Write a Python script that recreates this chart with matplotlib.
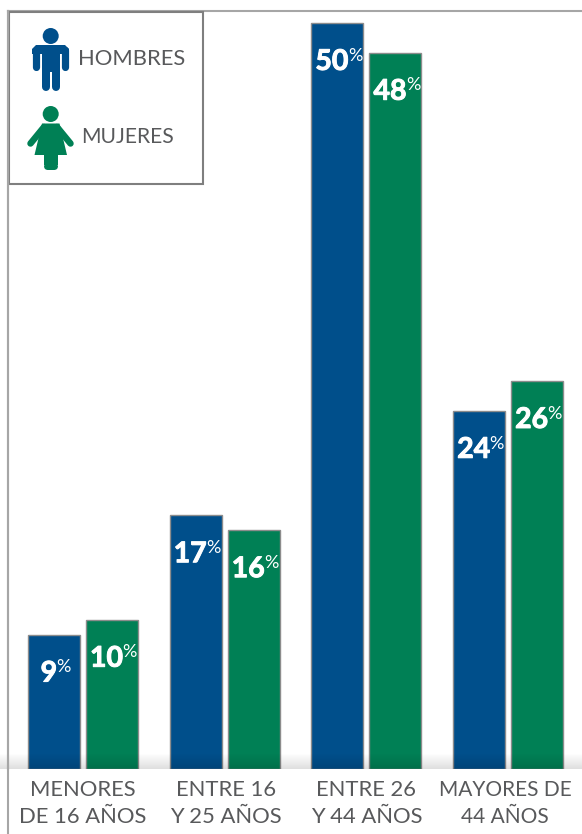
import numpy as np
import matplotlib
matplotlib.use('Agg')
import matplotlib.pyplot as plt
import matplotlib.patheffects as pe
from matplotlib.patches import Circle, Polygon, Rectangle

# values (%)
categories = ['MENORES\nDE 16 AÑOS', 'ENTRE 16\nY 25 AÑOS', 'ENTRE 26\nY 44 AÑOS', 'MAYORES DE\n44 AÑOS']
hombres = [9, 17, 50, 24]
mujeres = [10, 16, 48, 26]

BLUE = '#004f8b'
GREEN = '#008055'
GREY = '#58595b'
FRAME = '#7f7f7f'

W, H = 582, 834
plt.rcParams['font.family'] = ['Lato', 'DejaVu Sans']

fig = plt.figure(figsize=(W / 100, H / 100), dpi=100)

# plot area: left frame at x=8, top at y=11, baseline at y=769
ax = fig.add_axes([8 / W, 1 - 769 / H, (W - 8) / W, (769 - 11) / H])
pitch = 141.7
x0 = (83 - 8) / pitch
ax.set_xlim(-x0, (W - 8) / pitch - x0)
ax.set_ylim(0, 758 / 14.92)

x = np.arange(len(categories))
bw = 52 / pitch
off = 29 / pitch
bars_h = ax.bar(x - off, hombres, bw, color=BLUE, edgecolor='#8c8c8c', linewidth=1.0, zorder=2)
bars_m = ax.bar(x + off, mujeres, bw, color=GREEN, edgecolor='#8c8c8c', linewidth=1.0, zorder=2)

# value labels: big bold number with a small raised % sign
bold = [pe.withStroke(linewidth=0.7, foreground='white')]
for bars, vals in ((bars_h, hombres), (bars_m, mujeres)):
    for bar, v in zip(bars, vals):
        s = str(v)
        cx = bar.get_x() + bar.get_width() / 2
        nudge = (len(s) * 16 - 14) / 2 * 0.72 + 1.5
        ax.annotate(s, xy=(cx, v), xytext=(nudge, -28), textcoords='offset points',
                    ha='right', va='center', color='white', fontsize=20.5, fontweight='bold',
                    path_effects=bold, zorder=4)
        ax.annotate('%', xy=(cx, v), xytext=(nudge - 0.5, -23.5), textcoords='offset points',
                    ha='left', va='center', color='white', fontsize=13, zorder=4)

for side in ('right', 'bottom'):
    ax.spines[side].set_visible(False)
for side in ('left', 'top'):
    ax.spines[side].set_color('#a6a6a6')
    ax.spines[side].set_linewidth(1.5)
ax.set_yticks([])
ax.set_xticks(x + np.array([0, 1, 0, -3]) / pitch)
ax.set_xticklabels(categories, fontsize=15.8, color=GREY, linespacing=1.43)
ax.get_xticklabels()[3].set_fontsize(15)
ax.tick_params(axis='x', length=0, pad=8)

# soft shadow above the baseline
shade = np.zeros((64, 1, 4))
shade[:, 0, 3] = np.linspace(0, 0.13, 64)
ax_shade = fig.add_axes([0, 1 - 769 / H, 1, 16 / H], zorder=3)
ax_shade.imshow(shade, aspect='auto', interpolation='bilinear')
ax_shade.axis('off')

# overlay in pixel coordinates for the legend box and figures
ov = fig.add_axes([0, 0, 1, 1], zorder=5)
ov.set_xlim(0, W)
ov.set_ylim(H, 0)
ov.axis('off')
ov.add_line(plt.Line2D([7.5, 7.5], [11, H], color='#a6a6a6', lw=1.5))
ov.add_patch(Rectangle((8.5, 11.5), 194.5, 172.5, facecolor='white', edgecolor=FRAME, lw=1.5))


def limb(x1, y1, x2, y2, w, color):
    ov.add_line(plt.Line2D([x1, x2], [y1, y2], color=color, lw=w * 0.72, solid_capstyle='round'))


# man
ov.add_patch(Circle((50.7, 36), 8, color=BLUE, lw=0))
ov.add_patch(Polygon([[36, 45], [65, 45], [69, 49], [69, 54], [32, 54], [32, 49]], color=BLUE, lw=0))
limb(35.6, 50, 35.6, 66.5, 7.2, BLUE)
limb(65.4, 50, 65.4, 66.5, 7.2, BLUE)
ov.add_patch(Rectangle((41.7, 45), 17.8, 27, color=BLUE, lw=0))
limb(45.7, 68, 45.7, 87, 8, BLUE)
limb(55.5, 68, 55.5, 87, 8, BLUE)

# woman
ov.add_patch(Circle((50.7, 114), 8, color=GREEN, lw=0))
ov.add_patch(Polygon([[42, 123.5], [59.5, 123.5], [67, 155], [34.5, 155]], color=GREEN, lw=0))
limb(44, 127, 30.5, 143.5, 6.5, GREEN)
limb(57, 127, 70.5, 143.5, 6.5, GREEN)
ov.add_patch(Rectangle((43.5, 150), 14, 15, color=GREEN, lw=0))
limb(47, 165.5, 54, 165.5, 7, GREEN)

ov.text(78, 59, 'HOMBRES', fontsize=15.8, color=GREY, va='center', ha='left')
ov.text(81, 137, 'MUJERES', fontsize=15.2, color=GREY, va='center', ha='left')

fig.savefig('out.png', dpi=100)
plt.close(fig)
